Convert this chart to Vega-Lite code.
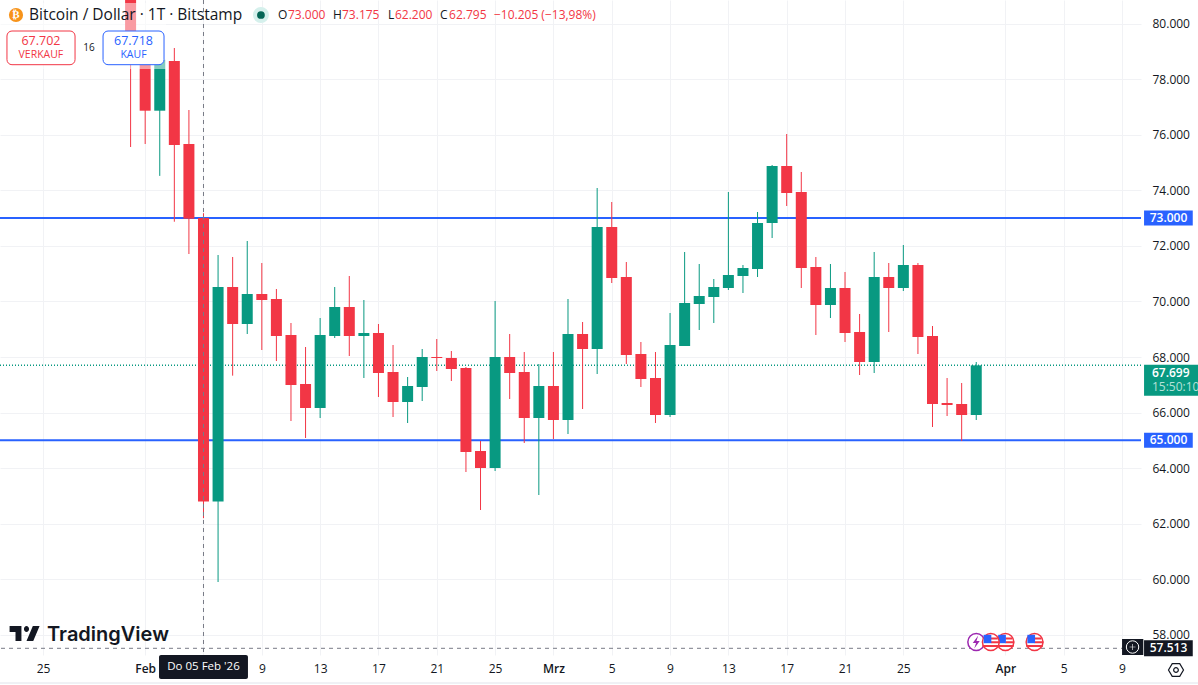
{"$schema":"https://vega.github.io/schema/vega-lite/v6.json","width":1141,"height":655,"autosize":{"type":"none"},"padding":{"left":0,"top":0,"right":57,"bottom":30},"background":"#ffffff","config":{"view":{"stroke":null},"font":"Open Sans","text":{"baseline":"middle"}},
"datasets":{
"candles":[
{"date":"2026-01-31","open":84000,"high":84500,"low":75560,"close":78700},
{"date":"2026-02-01","open":78700,"high":79500,"low":75668,"close":76867},
{"date":"2026-02-02","open":76867,"high":79000,"low":74520,"close":78700},
{"date":"2026-02-03","open":78656,"high":79124,"low":72870,"close":75632},
{"date":"2026-02-04","open":75668,"high":76892,"low":71708,"close":72979},
{"date":"2026-02-05","open":73000,"high":73175,"low":62200,"close":62795},
{"date":"2026-02-06","open":62795,"high":71672,"low":59900,"close":70520},
{"date":"2026-02-07","open":70520,"high":71600,"low":67328,"close":69188},
{"date":"2026-02-08","open":69188,"high":72176,"low":68828,"close":70268},
{"date":"2026-02-09","open":70268,"high":71384,"low":68252,"close":70052},
{"date":"2026-02-10","open":70088,"high":70448,"low":67856,"close":68756},
{"date":"2026-02-11","open":68792,"high":69224,"low":65696,"close":66992},
{"date":"2026-02-12","open":67028,"high":68360,"low":65084,"close":66164},
{"date":"2026-02-13","open":66164,"high":69404,"low":65804,"close":68792},
{"date":"2026-02-14","open":68756,"high":70520,"low":68684,"close":69800},
{"date":"2026-02-15","open":69800,"high":70916,"low":68036,"close":68756},
{"date":"2026-02-16","open":68756,"high":70052,"low":67244,"close":68864},
{"date":"2026-02-17","open":68864,"high":69188,"low":66560,"close":67424},
{"date":"2026-02-18","open":67460,"high":68432,"low":65840,"close":66380},
{"date":"2026-02-19","open":66380,"high":67280,"low":65624,"close":66956},
{"date":"2026-02-20","open":66920,"high":68288,"low":66416,"close":68000},
{"date":"2026-02-21","open":68000,"high":68648,"low":67496,"close":67964},
{"date":"2026-02-22","open":67964,"high":68216,"low":67136,"close":67568},
{"date":"2026-02-23","open":67604,"high":67640,"low":63860,"close":64580},
{"date":"2026-02-24","open":64616,"high":64976,"low":62492,"close":64004},
{"date":"2026-02-25","open":64004,"high":70016,"low":63896,"close":68000},
{"date":"2026-02-26","open":68000,"high":68828,"low":66488,"close":67424},
{"date":"2026-02-27","open":67460,"high":68180,"low":64904,"close":65804},
{"date":"2026-02-28","open":65804,"high":67748,"low":63032,"close":66956},
{"date":"2026-03-01","open":66956,"high":68180,"low":65048,"close":65732},
{"date":"2026-03-02","open":65732,"high":70088,"low":65228,"close":68828},
{"date":"2026-03-03","open":68828,"high":69260,"low":66128,"close":68288},
{"date":"2026-03-04","open":68288,"high":74084,"low":67388,"close":72680},
{"date":"2026-03-05","open":72680,"high":73580,"low":70664,"close":70844},
{"date":"2026-03-06","open":70880,"high":71420,"low":67748,"close":68072},
{"date":"2026-03-07","open":68108,"high":68540,"low":66920,"close":67208},
{"date":"2026-03-08","open":67244,"high":68180,"low":65624,"close":65912},
{"date":"2026-03-09","open":65912,"high":69584,"low":65840,"close":68432},
{"date":"2026-03-10","open":68396,"high":71780,"low":68396,"close":69944},
{"date":"2026-03-11","open":69908,"high":71348,"low":68972,"close":70196},
{"date":"2026-03-12","open":70160,"high":70808,"low":69224,"close":70520},
{"date":"2026-03-13","open":70484,"high":73940,"low":70412,"close":70952},
{"date":"2026-03-14","open":70916,"high":71312,"low":70304,"close":71204},
{"date":"2026-03-15","open":71168,"high":73220,"low":70880,"close":72824},
{"date":"2026-03-16","open":72824,"high":74912,"low":72284,"close":74876},
{"date":"2026-03-17","open":74876,"high":76028,"low":73436,"close":73904},
{"date":"2026-03-18","open":73940,"high":74660,"low":70484,"close":71204},
{"date":"2026-03-19","open":71240,"high":71600,"low":68792,"close":69872},
{"date":"2026-03-20","open":69872,"high":71348,"low":69404,"close":70484},
{"date":"2026-03-21","open":70484,"high":71060,"low":68540,"close":68864},
{"date":"2026-03-22","open":68900,"high":69548,"low":67352,"close":67820},
{"date":"2026-03-23","open":67820,"high":71780,"low":67424,"close":70880},
{"date":"2026-03-24","open":70880,"high":71384,"low":68900,"close":70484},
{"date":"2026-03-25","open":70484,"high":72032,"low":70376,"close":71312},
{"date":"2026-03-26","open":71312,"high":71384,"low":68108,"close":68720},
{"date":"2026-03-27","open":68756,"high":69116,"low":65480,"close":66308},
{"date":"2026-03-28","open":66344,"high":67244,"low":65876,"close":66272},
{"date":"2026-03-29","open":66308,"high":67064,"low":64976,"close":65912},
{"date":"2026-03-30","open":65912,"high":67820,"low":65732,"close":67699}],
"headDark":[
{"date":"2026-01-24T00:46:00Z","price":80312,"t":"Bitcoin / Dollar · 1T · Bitstamp","size":15.5},
{"date":"2026-02-10T02:38:00Z","price":80312,"t":"O","size":12},
{"date":"2026-02-13T21:07:00Z","price":80312,"t":"H","size":12},
{"date":"2026-02-17T15:36:00Z","price":80312,"t":"L","size":12},
{"date":"2026-02-21T05:17:00Z","price":80312,"t":"C","size":12}],
"headRed":[
{"date":"2026-02-10T19:05:00Z","price":80312,"t":"73.000"},
{"date":"2026-02-14T12:00:00Z","price":80312,"t":"73.175"},
{"date":"2026-02-18T03:07:00Z","price":80312,"t":"62.200"},
{"date":"2026-02-21T20:10:00Z","price":80312,"t":"62.795"},
{"date":"2026-02-24T22:05:00Z","price":80312,"t":"−10.205 (−13,98%)"}],
"wSell":[{"from":"2026-01-22T12:29:00Z","to":"2026-01-27T04:33:00Z","top":79736,"bottom":78523}],
"wBuy":[{"from":"2026-01-29T02:38:00Z","to":"2026-02-02T07:02:00Z","top":79736,"bottom":78523}],
"wSellT":[{"date":"2026-01-24T20:24:00Z","price":79376,"t":"67.702","size":12.5},{"date":"2026-01-24T20:24:00Z","price":78872,"t":"VERKAUF","size":10.5}],
"wBuyT":[{"date":"2026-01-31T04:48:00Z","price":79376,"t":"67.718","size":12.5},{"date":"2026-01-31T04:48:00Z","price":78872,"t":"KAUF","size":10.5}],
"events":[{"date":"2026-03-30","kind":"bolt"},{"date":"2026-04-01","kind":"back"},{"date":"2026-03-31","kind":"front"},{"date":"2026-04-03","kind":"front"}]
},
"layer":[
{"data":{"values":[{"price":73000},{"price":65000}]},"mark":{"type":"rule","color":"#2962FF","strokeWidth":2},"encoding":{"y":{"field":"price","type":"quantitative"}}},
{"data":{"values":[{"price":67699}]},"mark":{"type":"rule","color":"#089981","strokeWidth":1.5,"strokeDash":[1,2]},"encoding":{"y":{"field":"price","type":"quantitative"}}},
{"data":{"name":"candles"},"mark":{"type":"rule","strokeWidth":1},"encoding":{
"x":{"field":"date","type":"temporal","scale":{"type":"utc","nice":false,"padding":0,"domain":["2026-01-22T01:02:00Z","2026-04-10T07:12:00Z"]},"axis":{"title":null,"domain":false,"ticks":false,"grid":true,"gridColor":"#f1f2f5","gridWidth":1,"labelColor":"#131722","labelFontSize":12,"labelPadding":8,"labelOverlap":false,"labelFlush":false,"labelFontWeight":{"condition":{"test":"utcdate(datum.value)==1","value":600},"value":400},"values":[{"year":2026,"month":1,"date":25,"utc":true},{"year":2026,"month":2,"date":1,"utc":true},{"year":2026,"month":2,"date":5,"utc":true},{"year":2026,"month":2,"date":9,"utc":true},{"year":2026,"month":2,"date":13,"utc":true},{"year":2026,"month":2,"date":17,"utc":true},{"year":2026,"month":2,"date":21,"utc":true},{"year":2026,"month":2,"date":25,"utc":true},{"year":2026,"month":3,"date":1,"utc":true},{"year":2026,"month":3,"date":5,"utc":true},{"year":2026,"month":3,"date":9,"utc":true},{"year":2026,"month":3,"date":13,"utc":true},{"year":2026,"month":3,"date":17,"utc":true},{"year":2026,"month":3,"date":21,"utc":true},{"year":2026,"month":3,"date":25,"utc":true},{"year":2026,"month":4,"date":1,"utc":true},{"year":2026,"month":4,"date":5,"utc":true},{"year":2026,"month":4,"date":9,"utc":true}],"labelExpr":"utcdate(datum.value)==1 ? (utcmonth(datum.value)==1?'Feb':utcmonth(datum.value)==2?'Mrz':'Apr') : ''+utcdate(datum.value)"}},
"y":{"field":"low","type":"quantitative","scale":{"domain":[57272,80852],"nice":false,"zero":false},"axis":{"orient":"right","title":null,"domain":false,"ticks":false,"grid":true,"gridColor":"#f1f2f5","gridWidth":1,"labelColor":"#131722","labelFontSize":12,"labelPadding":11,"labelOverlap":false,"labelFlush":false,"labelAlign":"left","values":[58000,60000,62000,64000,66000,68000,70000,72000,74000,76000,78000,80000],"labelExpr":"replace(format(datum.value,','),',','.')"}},
"y2":{"field":"high"},
"color":{"condition":{"test":"datum.close>=datum.open","value":"#089981"},"value":"#F23645"}}},
{"data":{"name":"candles"},"mark":{"type":"bar","size":11},"encoding":{
"x":{"field":"date","type":"temporal"},
"y":{"field":"open","type":"quantitative"},"y2":{"field":"close"},
"color":{"condition":{"test":"datum.close>=datum.open","value":"#089981"},"value":"#F23645"}}},
{"data":{"values":[{"date":"2026-02-05"}]},"mark":{"type":"rule","color":"#787B86","strokeWidth":1,"strokeDash":[4,4]},"encoding":{"x":{"field":"date","type":"temporal"}}},
{"data":{"values":[{"price":57513}]},"mark":{"type":"rule","color":"#787B86","strokeWidth":1,"strokeDash":[4,4]},"encoding":{"y":{"field":"price","type":"quantitative"}}},
{"data":{"values":[{"from":"2026-01-22T01:02:00Z","to":"2026-02-02T10:19:00Z","top":80744,"bottom":78368}]},"mark":{"type":"rect","fill":"#ffffff","opacity":0.5},"encoding":{"x":{"field":"from","type":"temporal"},"x2":{"field":"to"},"y":{"field":"top","type":"quantitative"},"y2":{"field":"bottom"}}},
{"data":{"name":"wSell"},"mark":{"type":"rect","fill":"#ffffff","stroke":"#F23645","strokeWidth":1,"cornerRadius":5},"encoding":{"x":{"field":"from","type":"temporal"},"x2":{"field":"to"},"y":{"field":"top","type":"quantitative"},"y2":{"field":"bottom"}}},
{"data":{"name":"wBuy"},"mark":{"type":"rect","fill":"#ffffff","stroke":"#2962FF","strokeWidth":1,"cornerRadius":5},"encoding":{"x":{"field":"from","type":"temporal"},"x2":{"field":"to"},"y":{"field":"top","type":"quantitative"},"y2":{"field":"bottom"}}},
{"data":{"name":"wSellT"},"mark":{"type":"text","color":"#F23645","align":"center"},"encoding":{"x":{"field":"date","type":"temporal"},"y":{"field":"price","type":"quantitative"},"text":{"field":"t"},"size":{"field":"size","type":"quantitative","scale":null,"legend":null}}},
{"data":{"name":"wBuyT"},"mark":{"type":"text","color":"#2962FF","align":"center"},"encoding":{"x":{"field":"date","type":"temporal"},"y":{"field":"price","type":"quantitative"},"text":{"field":"t"},"size":{"field":"size","type":"quantitative","scale":null,"legend":null}}},
{"data":{"values":[{"date":"2026-01-28T03:36:00Z","price":79124,"t":"16"}]},"mark":{"type":"text","color":"#131722","fontSize":10,"align":"center"},"encoding":{"x":{"field":"date","type":"temporal"},"y":{"field":"price","type":"quantitative"},"text":{"field":"t"}}},
{"data":{"name":"headDark"},"mark":{"type":"text","color":"#131722","align":"left"},"encoding":{"x":{"field":"date","type":"temporal"},"y":{"field":"price","type":"quantitative"},"text":{"field":"t"},"size":{"field":"size","type":"quantitative","scale":null,"legend":null}}},
{"data":{"name":"headRed"},"mark":{"type":"text","color":"#F23645","align":"left","fontSize":12},"encoding":{"x":{"field":"date","type":"temporal"},"y":{"field":"price","type":"quantitative"},"text":{"field":"t"}}},
{"data":{"values":[{"date":"2026-01-23T03:22:00Z","price":80312}]},"mark":{"type":"point","shape":"circle","filled":true,"fill":"#F7931A","size":201,"opacity":1},"encoding":{"x":{"field":"date","type":"temporal"},"y":{"field":"price","type":"quantitative"}}},
{"data":{"values":[{"date":"2026-01-23T03:22:00Z","price":80312,"t":"₿"}]},"mark":{"type":"text","color":"#ffffff","font":"DejaVu Sans","fontSize":11,"fontWeight":"bold","align":"center"},"encoding":{"x":{"field":"date","type":"temporal"},"y":{"field":"price","type":"quantitative"},"text":{"field":"t"}}},
{"data":{"values":[{"date":"2026-02-08T22:34:00Z","price":80312}]},"mark":{"type":"point","shape":"circle","filled":true,"fill":"#D5F0EC","size":254,"opacity":1},"encoding":{"x":{"field":"date","type":"temporal"},"y":{"field":"price","type":"quantitative"}}},
{"data":{"values":[{"date":"2026-02-08T22:34:00Z","price":80312}]},"mark":{"type":"point","shape":"circle","filled":true,"fill":"#056656","size":60,"opacity":1},"encoding":{"x":{"field":"date","type":"temporal"},"y":{"field":"price","type":"quantitative"}}},
{"data":{"values":[{"date":"2026-01-23T17:31:00Z","price":58046}]},"mark":{"type":"point","filled":true,"fill":"#131722","size":900,"opacity":1,"shape":"M-0.211 -0.5H-1V-0.1H-0.606V0.5H-0.211Z M0.577 0.5H0.127L0.549 -0.5H1Z M0.127 -0.5A0.169 0.2 0 1 1 0.127 -0.1A0.169 0.2 0 1 1 0.127 -0.5Z"},"encoding":{"x":{"field":"date","type":"temporal"},"y":{"field":"price","type":"quantitative"}}},
{"data":{"values":[{"date":"2026-01-25T06:29:00Z","price":57992,"t":"TradingView"}]},"mark":{"type":"text","color":"#131722","font":"Inter","fontSize":20,"fontWeight":600,"align":"left"},"encoding":{"x":{"field":"date","type":"temporal"},"y":{"field":"price","type":"quantitative"},"text":{"field":"t"}}},
{"data":{"name":"events"},"transform":[{"filter":"datum.kind=='bolt'"}],"mark":{"type":"point","shape":"circle","filled":true,"fill":"#ffffff","stroke":"#9C27B0","strokeWidth":1.5,"size":283,"opacity":1},"encoding":{"x":{"field":"date","type":"temporal"},"y":{"datum":57740,"type":"quantitative"}}},
{"data":{"name":"events"},"transform":[{"filter":"datum.kind=='bolt'"}],"mark":{"type":"point","filled":true,"fill":"#9C27B0","size":400,"opacity":1,"shape":"M0.2 -0.65L-0.35 0.1L-0.02 0.1L-0.2 0.65L0.35 -0.1L0.02 -0.1Z"},"encoding":{"x":{"field":"date","type":"temporal"},"y":{"datum":57740,"type":"quantitative"}}},
{"data":{"name":"events"},"transform":[{"filter":"datum.kind=='back'"}],"mark":{"type":"point","shape":"circle","filled":true,"fill":"#ffffff","stroke":"#F23645","strokeWidth":1.5,"size":283,"opacity":1},"encoding":{"x":{"field":"date","type":"temporal"},"y":{"datum":57740,"type":"quantitative"}}},
{"data":{"name":"events"},"transform":[{"filter":"datum.kind=='back'"}],"mark":{"type":"point","filled":true,"fill":"#F23645","size":400,"opacity":1,"shape":"M0 -0.45H0.7V-0.25H0Z M0 -0.08H0.88V0.12H0Z M-0.82 0.3H0.82V0.5H-0.82Z"},"encoding":{"x":{"field":"date","type":"temporal"},"y":{"datum":57740,"type":"quantitative"}}},
{"data":{"name":"events"},"transform":[{"filter":"datum.kind=='back'"}],"mark":{"type":"point","filled":true,"fill":"#2962FF","size":400,"opacity":1,"shape":"M-0.72 -0.72H0.05V0.12H-0.72Z"},"encoding":{"x":{"field":"date","type":"temporal"},"y":{"datum":57740,"type":"quantitative"}}},
{"data":{"name":"events"},"transform":[{"filter":"datum.kind=='front'"}],"mark":{"type":"point","shape":"circle","filled":true,"fill":"#ffffff","stroke":"#F23645","strokeWidth":1.5,"size":283,"opacity":1},"encoding":{"x":{"field":"date","type":"temporal"},"y":{"datum":57740,"type":"quantitative"}}},
{"data":{"name":"events"},"transform":[{"filter":"datum.kind=='front'"}],"mark":{"type":"point","filled":true,"fill":"#F23645","size":400,"opacity":1,"shape":"M0 -0.45H0.7V-0.25H0Z M0 -0.08H0.88V0.12H0Z M-0.82 0.3H0.82V0.5H-0.82Z"},"encoding":{"x":{"field":"date","type":"temporal"},"y":{"datum":57740,"type":"quantitative"}}},
{"data":{"name":"events"},"transform":[{"filter":"datum.kind=='front'"}],"mark":{"type":"point","filled":true,"fill":"#2962FF","size":400,"opacity":1,"shape":"M-0.72 -0.72H0.05V0.12H-0.72Z"},"encoding":{"x":{"field":"date","type":"temporal"},"y":{"datum":57740,"type":"quantitative"}}},
{"data":{"values":[{"price":56264}]},"mark":{"type":"rule","color":"#E0E3EB","strokeWidth":1},"encoding":{"x":{"datum":{"year":2026,"month":1,"date":22,"hours":1,"minutes":2,"utc":true},"type":"temporal"},"x2":{"datum":{"year":2026,"month":4,"date":14,"hours":5,"minutes":2,"utc":true}},"y":{"field":"price","type":"quantitative"}}},
{"data":{"values":[{"t":"Do 05 Feb '26"}]},"mark":{"type":"rect","fill":"#131722","cornerRadius":2},"encoding":{"x":{"datum":{"year":2026,"month":2,"date":1,"hours":22,"minutes":48,"utc":true},"type":"temporal"},"x2":{"datum":{"year":2026,"month":2,"date":8,"hours":1,"minutes":12,"utc":true}},"y":{"datum":57272,"type":"quantitative"},"y2":{"datum":56408}}},
{"data":{"values":[{"date":"2026-02-05","price":56840,"t":"Do 05 Feb '26"}]},"mark":{"type":"text","color":"#ffffff","fontSize":11.5,"align":"center"},"encoding":{"x":{"field":"date","type":"temporal"},"y":{"field":"price","type":"quantitative"},"text":{"field":"t"}}},
{"data":{"values":[{"price":57560}]},"mark":{"type":"rule","color":"#131722","strokeWidth":16},"encoding":{"x":{"datum":{"year":2026,"month":4,"date":9,"hours":0,"minutes":0,"utc":true},"type":"temporal"},"x2":{"datum":{"year":2026,"month":4,"date":10,"hours":11,"minutes":0,"utc":true}},"y":{"field":"price","type":"quantitative"}}},
{"data":{"values":[{"date":"2026-04-09T17:17:00Z","price":57560}]},"mark":{"type":"point","shape":"circle","filled":false,"stroke":"#ffffff","strokeWidth":1,"size":154,"opacity":1},"encoding":{"x":{"field":"date","type":"temporal"},"y":{"field":"price","type":"quantitative"}}},
{"data":{"values":[{"date":"2026-04-09T17:17:00Z","price":57560}]},"mark":{"type":"point","shape":"M-0.1 -1H0.1V-0.1H1V0.1H0.1V1H-0.1V0.1H-1V-0.1H-0.1Z","filled":true,"fill":"#ffffff","size":36,"opacity":1},"encoding":{"x":{"field":"date","type":"temporal"},"y":{"field":"price","type":"quantitative"}}},
{"data":{"values":[{"price":73000},{"price":65000}]},"mark":{"type":"rule","color":"#2962FF","strokeWidth":15},"encoding":{"x":{"datum":{"year":2026,"month":4,"date":10,"hours":12,"minutes":14,"utc":true},"type":"temporal"},"x2":{"datum":{"year":2026,"month":4,"date":13,"hours":20,"minutes":24,"utc":true}},"y":{"field":"price","type":"quantitative"}}},
{"data":{"values":[{"price":57513}]},"mark":{"type":"rule","color":"#131722","strokeWidth":16},"encoding":{"x":{"datum":{"year":2026,"month":4,"date":10,"hours":12,"minutes":14,"utc":true},"type":"temporal"},"x2":{"datum":{"year":2026,"month":4,"date":13,"hours":20,"minutes":24,"utc":true}},"y":{"field":"price","type":"quantitative"}}},
{"data":{"values":[{"price":67699}]},"mark":{"type":"rule","color":"#089981","strokeWidth":31,"yOffset":15},"encoding":{"x":{"datum":{"year":2026,"month":4,"date":10,"hours":12,"minutes":14,"utc":true},"type":"temporal"},"x2":{"datum":{"year":2026,"month":4,"date":14,"hours":5,"minutes":2,"utc":true}},"y":{"field":"price","type":"quantitative"}}},
{"data":{"values":[{"date":"2026-04-12T04:33:00Z","price":73000,"t":"73.000"},{"date":"2026-04-12T04:33:00Z","price":65000,"t":"65.000"},{"date":"2026-04-12T04:33:00Z","price":57513,"t":"57.513"}]},"mark":{"type":"text","color":"#ffffff","fontSize":12,"fontWeight":600,"align":"center"},"encoding":{"x":{"field":"date","type":"temporal"},"y":{"field":"price","type":"quantitative"},"text":{"field":"t"}}},
{"data":{"values":[{"date":"2026-04-11T01:12:00Z","price":67699,"t":"67.699"}]},"mark":{"type":"text","color":"#ffffff","fontSize":12,"fontWeight":600,"align":"left","dy":8},"encoding":{"x":{"field":"date","type":"temporal"},"y":{"field":"price","type":"quantitative"},"text":{"field":"t"}}},
{"data":{"values":[{"date":"2026-04-11T01:12:00Z","price":67699,"t":"15:50:10"}]},"mark":{"type":"text","color":"#B5E1D9","fontSize":12,"align":"left","dy":22},"encoding":{"x":{"field":"date","type":"temporal"},"y":{"field":"price","type":"quantitative"},"text":{"field":"t"}}},
{"data":{"values":[{"date":"2026-04-12T16:48:00Z","price":56732}]},"mark":{"type":"point","filled":false,"stroke":"#131722","strokeWidth":1.2,"size":225,"opacity":1,"shape":"M-1 0L-0.5 -0.85H0.5L1 0L0.5 0.85H-0.5Z"},"encoding":{"x":{"field":"date","type":"temporal"},"y":{"field":"price","type":"quantitative"}}},
{"data":{"values":[{"date":"2026-04-12T16:48:00Z","price":56732}]},"mark":{"type":"point","shape":"circle","filled":false,"stroke":"#131722","strokeWidth":1.2,"size":22,"opacity":1},"encoding":{"x":{"field":"date","type":"temporal"},"y":{"field":"price","type":"quantitative"}}}
]}
